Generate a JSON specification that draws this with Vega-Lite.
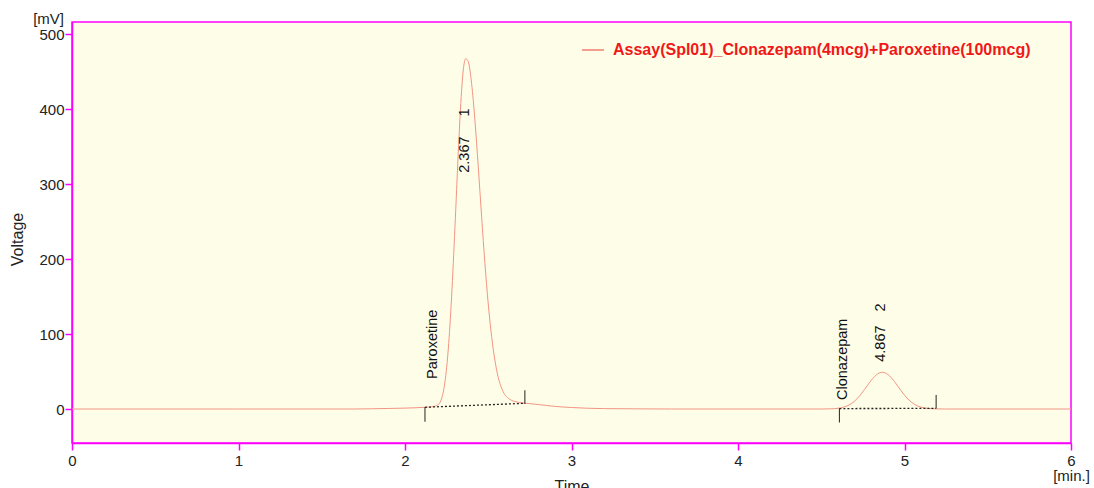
{
  "$schema": "https://vega.github.io/schema/vega-lite/v6.json",
  "width": 999,
  "height": 421,
  "autosize": {"type": "none"},
  "padding": {"left": 72, "top": 22, "right": 23, "bottom": 45},
  "background": "white",
  "config": {
    "font": "Liberation Sans",
    "view": {"fill": "#fefee8", "stroke": "#ff00ff", "strokeWidth": 1.5}
  },
  "title": {
    "text": "[mV]",
    "anchor": "start",
    "align": "right",
    "frame": "group",
    "dx": -8,
    "dy": 17,
    "offset": 0,
    "baseline": "alphabetic",
    "fontSize": 15,
    "fontWeight": "normal",
    "color": "#222222"
  },
  "datasets": {
    "signal": [
      {"t": 0, "v": 0}, {"t": 1.0, "v": 0}, {"t": 1.7, "v": 0}, {"t": 1.8, "v": 0.3},
      {"t": 1.9, "v": 0.7}, {"t": 2.0, "v": 1.2}, {"t": 2.06, "v": 1.6}, {"t": 2.12, "v": 2.3},
      {"t": 2.16, "v": 3.0}, {"t": 2.18, "v": 3.8}, {"t": 2.2, "v": 6}, {"t": 2.22, "v": 14},
      {"t": 2.24, "v": 36}, {"t": 2.26, "v": 80}, {"t": 2.28, "v": 150}, {"t": 2.3, "v": 242},
      {"t": 2.32, "v": 342}, {"t": 2.34, "v": 425}, {"t": 2.35, "v": 452}, {"t": 2.365, "v": 467},
      {"t": 2.38, "v": 463}, {"t": 2.4, "v": 434}, {"t": 2.42, "v": 385}, {"t": 2.44, "v": 323},
      {"t": 2.46, "v": 257}, {"t": 2.48, "v": 194}, {"t": 2.5, "v": 140}, {"t": 2.52, "v": 97},
      {"t": 2.54, "v": 65}, {"t": 2.56, "v": 42}, {"t": 2.58, "v": 28}, {"t": 2.6, "v": 19},
      {"t": 2.62, "v": 14.5}, {"t": 2.64, "v": 11.5}, {"t": 2.66, "v": 10}, {"t": 2.68, "v": 9},
      {"t": 2.7, "v": 8.2}, {"t": 2.74, "v": 7.4}, {"t": 2.8, "v": 6}, {"t": 2.9, "v": 3.5},
      {"t": 3.0, "v": 2}, {"t": 3.1, "v": 1}, {"t": 3.2, "v": 0.5}, {"t": 3.4, "v": 0.2},
      {"t": 3.6, "v": 0}, {"t": 4.5, "v": 0}, {"t": 4.56, "v": 0.26}, {"t": 4.6, "v": 0.95},
      {"t": 4.64, "v": 2.8}, {"t": 4.68, "v": 7.0}, {"t": 4.72, "v": 14.8}, {"t": 4.76, "v": 26},
      {"t": 4.8, "v": 38.2}, {"t": 4.84, "v": 47}, {"t": 4.867, "v": 49}, {"t": 4.9, "v": 46.1},
      {"t": 4.94, "v": 36.5}, {"t": 4.98, "v": 24.2}, {"t": 5.02, "v": 13.4}, {"t": 5.06, "v": 6.2},
      {"t": 5.1, "v": 2.4}, {"t": 5.14, "v": 0.8}, {"t": 5.18, "v": 0.25}, {"t": 5.24, "v": 0},
      {"t": 6.0, "v": 0}
    ],
    "integ": [
      {"t": 2.12, "v": 2.3, "t2": 2.72, "v2": 7.6},
      {"t": 4.609, "v": 0.6, "t2": 5.19, "v2": 0.8}
    ],
    "marks": [
      {"t": 2.12, "v": -17, "v2": 2.5},
      {"t": 2.72, "v": 6.7, "v2": 25},
      {"t": 4.609, "v": -18, "v2": 0.8},
      {"t": 5.19, "v": 0.8, "v2": 18.7}
    ],
    "labels": [
      {"t": 2.168, "v": 40, "label": "Paroxetine"},
      {"t": 2.358, "v": 315, "label": "2.367"},
      {"t": 2.358, "v": 390, "label": "1"},
      {"t": 4.632, "v": 12, "label": "Clonazepam"},
      {"t": 4.859, "v": 63, "label": "4.867"},
      {"t": 4.857, "v": 130, "label": "2"}
    ]
  },
  "encoding": {
    "x": {
      "field": "t",
      "type": "quantitative",
      "scale": {"domain": [0, 6], "nice": false, "zero": false},
      "axis": {
        "values": [0, 1, 2, 3, 4, 5, 6],
        "grid": false,
        "title": "Time",
        "titleFontSize": 16,
        "titleFontWeight": "normal",
        "titleColor": "#222222",
        "titleBaseline": "top",
        "titleY": 35,
        "labelFontSize": 15,
        "labelColor": "#222222",
        "labelPadding": 3,
        "labelFlush": false,
        "labelOverlap": false,
        "labelBaseline": "top",
        "labelLineHeight": 15,
        "labelExpr": "datum.value == 6 ? ['6', '[min.]'] : datum.label",
        "tickSize": 7,
        "tickColor": "#ff00ff",
        "tickWidth": 1.5,
        "domainColor": "#ff00ff",
        "domainWidth": 1.5
      }
    },
    "y": {
      "field": "v",
      "type": "quantitative",
      "scale": {"domain": [-45.33, 516], "nice": false, "zero": false},
      "axis": {
        "values": [0, 100, 200, 300, 400, 500],
        "grid": false,
        "title": "Voltage",
        "titleFontSize": 16,
        "titleFontWeight": "normal",
        "titleColor": "#222222",
        "titleAlign": "center",
        "titleBaseline": "middle",
        "titleX": -55,
        "titleY": 217,
        "labelFontSize": 15,
        "labelColor": "#222222",
        "labelPadding": 1,
        "labelOverlap": false,
        "tickSize": 7,
        "tickColor": "#ff00ff",
        "tickWidth": 1.5,
        "domainColor": "#ff00ff",
        "domainWidth": 1.5
      }
    }
  },
  "layer": [
    {
      "data": {"name": "signal"},
      "mark": {"type": "line", "interpolate": "monotone", "strokeWidth": 1},
      "encoding": {
        "color": {
          "datum": "Assay(Spl01)_Clonazepam(4mcg)+Paroxetine(100mcg)",
          "type": "nominal",
          "scale": {"range": ["#f29484"]},
          "legend": {
            "orient": "none",
            "legendX": 509,
            "legendY": 16,
            "title": null,
            "padding": 0,
            "symbolType": "stroke",
            "symbolSize": 480,
            "symbolStrokeWidth": 1.8,
            "labelFontSize": 16,
            "labelFontWeight": "bold",
            "labelColor": "#f01818",
            "labelOffset": 8,
            "labelLimit": 600
          }
        }
      }
    },
    {
      "data": {"name": "integ"},
      "mark": {"type": "rule", "color": "#222222", "strokeWidth": 1.3, "strokeDash": [2, 2]},
      "encoding": {
        "x2": {"field": "t2"},
        "y2": {"field": "v2"}
      }
    },
    {
      "data": {"name": "marks"},
      "mark": {"type": "rule", "color": "#222222", "strokeWidth": 1},
      "encoding": {
        "y2": {"field": "v2"}
      }
    },
    {
      "data": {"name": "labels"},
      "mark": {"type": "text", "angle": 270, "align": "left", "baseline": "middle", "fontSize": 14.5, "color": "#111111"},
      "encoding": {
        "text": {"field": "label", "type": "nominal"}
      }
    }
  ]
}
